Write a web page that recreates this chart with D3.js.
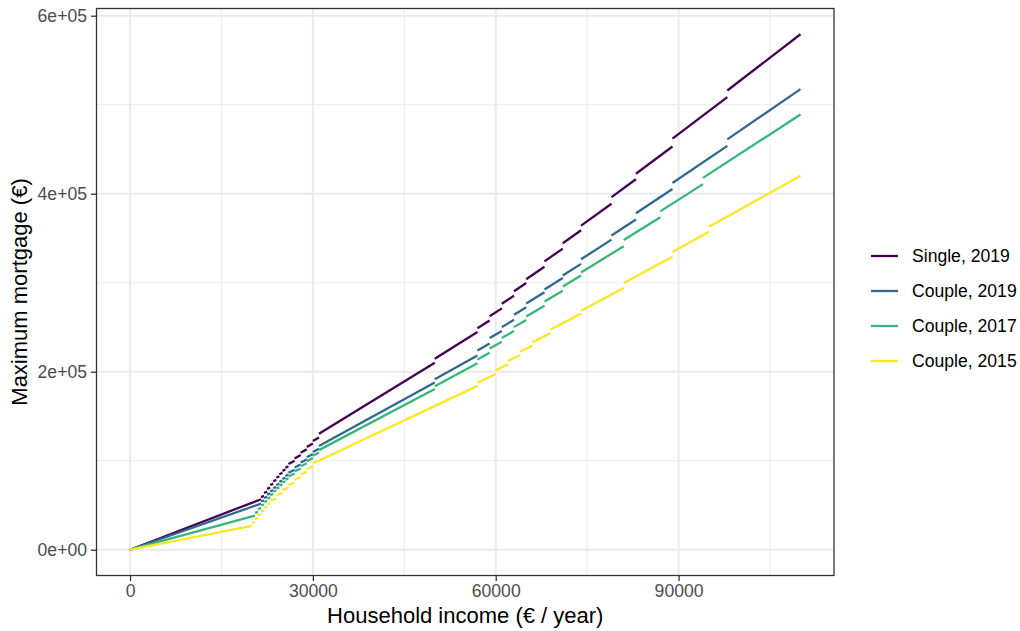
<!DOCTYPE html>
<html>
<head>
<meta charset="utf-8">
<script src="https://cdn.jsdelivr.net/npm/d3@7"></script>
<style>
  html, body { margin: 0; padding: 0; background: #ffffff; }
  svg text { font-family: "Liberation Sans", Arial, Helvetica, sans-serif; }
</style>
</head>
<body>
<svg id="chart" width="1020" height="631"></svg>
<script>
// Maximum mortgage by household income. Each series is a set of income
// brackets: the bracket edges (€ / year) and the maximum mortgage (€) at the
// start and end of each bracket.
const seriesNames = ["Single, 2019", "Couple, 2019", "Couple, 2017", "Couple, 2015"];
const seriesColors = ["#440154", "#31688E", "#35B779", "#FDE725"];

const single2019Income = [0, 21500, 22000, 22500, 23000, 23500, 24000, 24500, 25000, 25500,
  26000, 27000, 28000, 29000, 30000, 31000, 50000, 57000, 59000, 61000, 63000, 65000,
  68000, 71000, 74000, 79000, 83000, 89000, 98000, 110000];
const single2019Mortgage = [[0, 56760], [59125, 60500], [63800, 65250], [68400, 69920],
  [72680, 74260], [76845, 78480], [80880, 82565], [84770, 86500], [88500, 90270],
  [92055, 93860], [96200, 99900], [102600, 106400], [108920, 112810], [115420, 119400],
  [122100, 126170], [130200, 210000], [214500, 244530], [248805, 257535], [262255, 271145],
  [276330, 285390], [290430, 299650], [303875, 317900], [324020, 338315], [344350, 358900],
  [364080, 388680], [396185, 416245], [422470, 453010], [461910, 508620], [515970, 579150]];

const couple2019Income = [0, 21500, 22000, 22500, 23000, 23500, 24000, 24500, 25000, 25500,
  26000, 27000, 28000, 29000, 30000, 31000, 50000, 57000, 59000, 61000, 63000, 65000,
  68000, 71000, 74000, 79000, 83000, 89000, 98000, 110000];
const couple2019Mortgage = [[0, 51815], [54180, 55440], [58080, 59400], [61875, 63250],
  [65550, 66975], [69090, 70560], [72720, 74235], [76195, 77750], [79500, 81090],
  [82875, 84500], [86580, 89910], [92340, 95760], [98000, 101500], [103820, 107400],
  [109800, 113460], [116560, 188000], [191500, 218310], [223725, 231575], [237770, 245830],
  [250100, 258300], [263970, 272350], [276575, 289340], [292400, 305300], [308140, 321160],
  [326340, 348390], [353130, 371010], [378065, 405395], [412070, 453740], [461090, 517550]];

const couple2017Income = [0, 20500, 21000, 21500, 22000, 22500, 23000, 23500, 24000, 24500,
  25000, 25500, 26000, 27000, 28000, 29000, 30000, 31000, 50000, 57000, 59000, 61000,
  63000, 65000, 68000, 71000, 74000, 81000, 87000, 94000, 110000];
const couple2017Mortgage = [[0, 38335], [41410, 42420], [45570, 46655], [49665, 50820],
  [53680, 54900], [57600, 58880], [61410, 62745], [65095, 66480], [68640, 70070],
  [72030, 73500], [75500, 77010], [78795, 80340], [82420, 85590], [88020, 91280],
  [93800, 97150], [99470, 102900], [105600, 109120], [111910, 180500], [183750, 209475],
  [213750, 221250], [225970, 233630], [237900, 245700], [250110, 258050], [261950, 274040],
  [278800, 291100], [295715, 308210], [311540, 341010], [347895, 373665], [380190, 410780],
  [417830, 488950]];

const couple2015Income = [0, 20000, 20500, 21000, 21500, 22000, 22500, 23000, 24000, 25000,
  26000, 27000, 28000, 29000, 30000, 57000, 60000, 62000, 64000, 66000, 69000, 74000,
  81000, 89000, 95000, 110000];
const couple2015Mortgage = [[0, 26800], [30400, 31160], [34645, 35490], [38850, 39775],
  [43000, 44000], [47080, 48150], [51075, 52210], [55200, 57600], [61200, 63750],
  [67000, 69680], [72800, 75600], [78570, 81480], [84560, 87580], [90480, 93600],
  [96900, 184110], [187530, 197400], [201600, 208320], [212040, 218880], [222400, 229350],
  [232980, 243570], [247365, 265290], [268620, 294030], [299700, 329300], [334640, 357200],
  [362900, 420200]];

const seriesIncome = [single2019Income, couple2019Income, couple2017Income, couple2015Income];
const seriesMortgage = [single2019Mortgage, couple2019Mortgage, couple2017Mortgage, couple2015Mortgage];

const xTicks = [0, 30000, 60000, 90000];
const xMinorTicks = [15000, 45000, 75000, 105000];
const yTicks = [0, 200000, 400000, 600000];
const yTickLabels = ["0e+00", "2e+05", "4e+05", "6e+05"];
const yMinorTicks = [100000, 300000, 500000];

const xTitle = "Household income (€ / year)";
const yTitle = "Maximum mortgage (€)";

// Panel geometry
const panel = { left: 96.5, right: 834, top: 8.5, bottom: 575.5 };

// Segments for every series
const segments = [];
seriesNames.forEach((name, s) => {
  const inc = seriesIncome[s];
  seriesMortgage[s].forEach((m, i) => {
    segments.push({ series: s, x0: inc[i], x1: inc[i + 1], y0: m[0], y1: m[1] });
  });
});

// Scales with a 5% expansion on each side of the data range
const xExt = [d3.min(segments, d => d.x0), d3.max(segments, d => d.x1)];
const yExt = [d3.min(segments, d => d.y0), d3.max(segments, d => d.y1)];
const xPad = (xExt[1] - xExt[0]) * 0.05;
const yPad = (yExt[1] - yExt[0]) * 0.05;
const x = d3.scaleLinear().domain([xExt[0] - xPad, xExt[1] + xPad]).range([panel.left, panel.right]);
const y = d3.scaleLinear().domain([yExt[0] - yPad, yExt[1] + yPad]).range([panel.bottom, panel.top]);

const svg = d3.select("#chart");
svg.append("rect").attr("width", 1020).attr("height", 631).attr("fill", "#ffffff");

// Grid
const grid = svg.append("g");
grid.selectAll("line.xminor").data(xMinorTicks).join("line")
  .attr("x1", d => x(d)).attr("x2", d => x(d))
  .attr("y1", panel.top).attr("y2", panel.bottom)
  .attr("stroke", "#EBEBEB").attr("stroke-width", 1);
grid.selectAll("line.yminor").data(yMinorTicks).join("line")
  .attr("x1", panel.left).attr("x2", panel.right)
  .attr("y1", d => y(d)).attr("y2", d => y(d))
  .attr("stroke", "#EBEBEB").attr("stroke-width", 1);
grid.selectAll("line.xmajor").data(xTicks).join("line")
  .attr("x1", d => x(d)).attr("x2", d => x(d))
  .attr("y1", panel.top).attr("y2", panel.bottom)
  .attr("stroke", "#EBEBEB").attr("stroke-width", 2);
grid.selectAll("line.ymajor").data(yTicks).join("line")
  .attr("x1", panel.left).attr("x2", panel.right)
  .attr("y1", d => y(d)).attr("y2", d => y(d))
  .attr("stroke", "#EBEBEB").attr("stroke-width", 2);

// Series segments
svg.append("g").selectAll("line").data(segments).join("line")
  .attr("x1", d => x(d.x0)).attr("y1", d => y(d.y0))
  .attr("x2", d => x(d.x1)).attr("y2", d => y(d.y1))
  .attr("stroke", d => seriesColors[d.series])
  .attr("stroke-width", 2.3)
  .attr("stroke-linecap", "butt");

// Panel border
svg.append("rect")
  .attr("x", panel.left).attr("y", panel.top)
  .attr("width", panel.right - panel.left).attr("height", panel.bottom - panel.top)
  .attr("fill", "none").attr("stroke", "#333333").attr("stroke-width", 1.3);

// Axes
const xAxis = svg.append("g").attr("transform", `translate(0,${panel.bottom})`)
  .call(d3.axisBottom(x).tickValues(xTicks).tickFormat(d3.format("d")).tickSize(5.5).tickPadding(4));
const yAxis = svg.append("g").attr("transform", `translate(${panel.left},0)`)
  .call(d3.axisLeft(y).tickValues(yTicks).tickFormat((d, i) => yTickLabels[i]).tickSize(5.5).tickPadding(4));
[xAxis, yAxis].forEach(a => {
  a.select(".domain").remove();
  a.selectAll(".tick line").attr("stroke", "#333333").attr("stroke-width", 1.3);
  a.selectAll(".tick text").attr("fill", "#4D4D4D")
    .style("font-family", '"Liberation Sans", Arial, sans-serif').style("font-size", "17.6px");
});

// Axis titles
svg.append("text")
  .attr("x", (panel.left + panel.right) / 2).attr("y", 623)
  .attr("text-anchor", "middle").attr("fill", "#000000")
  .style("font-size", "22px").text(xTitle);
svg.append("text")
  .attr("transform", `translate(27,${(panel.top + panel.bottom) / 2}) rotate(-90)`)
  .attr("text-anchor", "middle").attr("fill", "#000000")
  .style("font-size", "22px").text(yTitle);

// Legend
const legend = svg.append("g");
const rows = legend.selectAll("g").data(seriesNames).join("g")
  .attr("transform", (d, i) => `translate(871,${256 + i * 35})`);
rows.append("line").attr("x1", 0).attr("x2", 27).attr("y1", 0).attr("y2", 0)
  .attr("stroke", (d, i) => seriesColors[i]).attr("stroke-width", 2.3);
rows.append("text").attr("x", 41).attr("y", 0).attr("dy", "0.35em")
  .attr("fill", "#000000").style("font-size", "17.6px").text(d => d);
</script>
</body>
</html>
